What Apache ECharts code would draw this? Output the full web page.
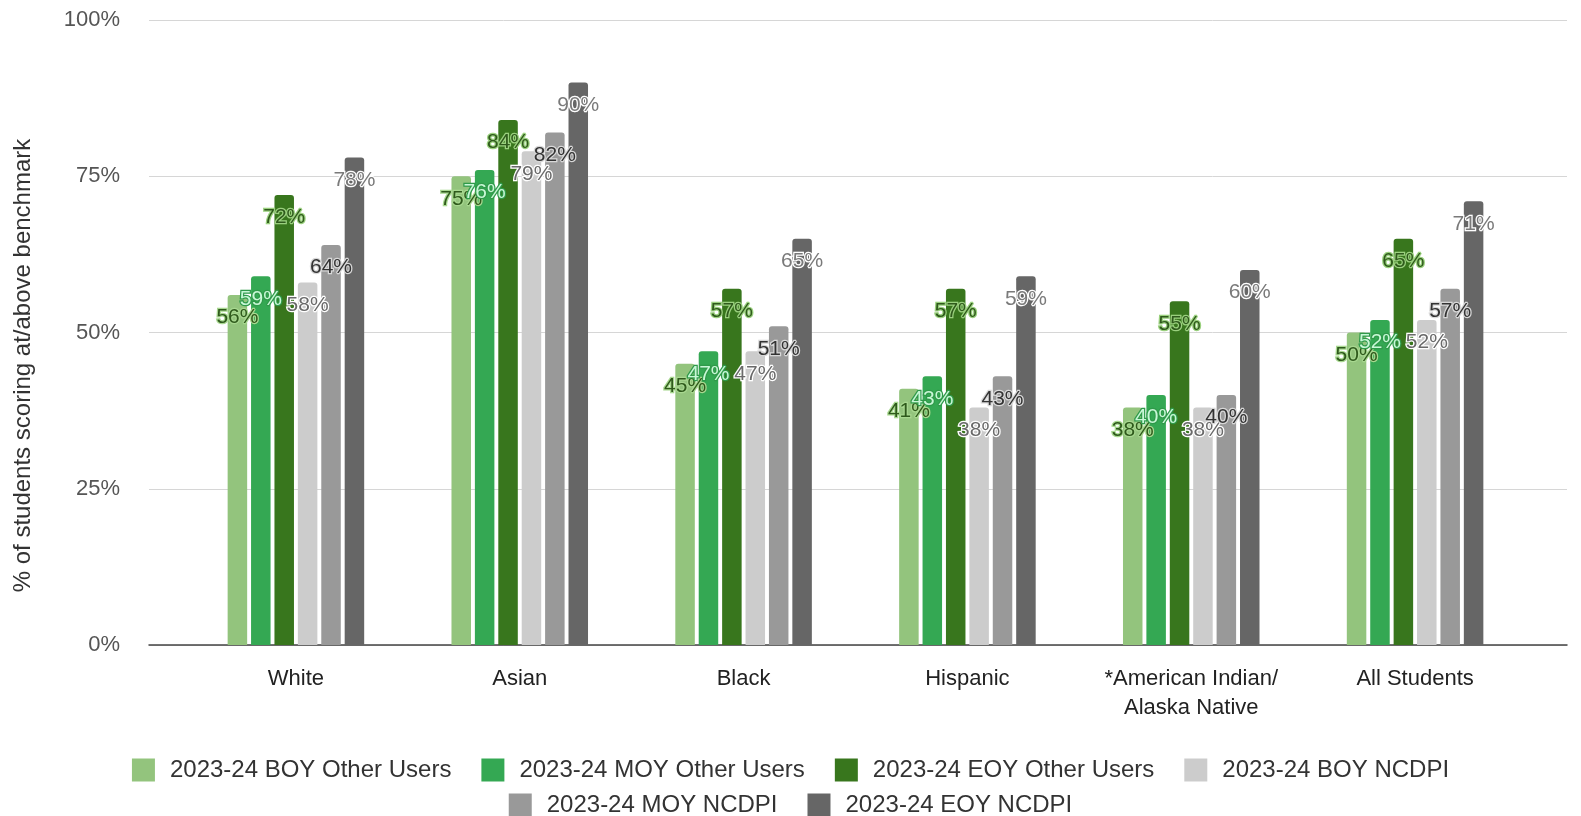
<!DOCTYPE html>
<html>
<head>
<meta charset="utf-8">
<script src="https://cdn.jsdelivr.net/npm/echarts@6/dist/echarts.min.js"></script>
<style>html,body{margin:0;padding:0;background:#fff;}#c{width:1581px;height:816px;}</style>
</head>
<body>
<div id="c"></div>
<script>
const categories = ['White', 'Asian', 'Black', 'Hispanic', '*American Indian/\nAlaska Native', 'All Students'];
const seriesNames = ['2023-24 BOY Other Users', '2023-24 MOY Other Users', '2023-24 EOY Other Users', '2023-24 BOY NCDPI', '2023-24 MOY NCDPI', '2023-24 EOY NCDPI'];
const boyOther = [56, 75, 45, 41, 38, 50];
const moyOther = [59, 76, 47, 43, 40, 52];
const eoyOther = [72, 84, 57, 57, 55, 65];
const boyNcdpi = [58, 79, 47, 38, 38, 52];
const moyNcdpi = [64, 82, 51, 43, 40, 57];
const eoyNcdpi = [78, 90, 65, 59, 60, 71];
const yTicks = [0, 25, 50, 75, 100];

const values = [boyOther, moyOther, eoyOther, boyNcdpi, moyNcdpi, eoyNcdpi];
const colors = ['#93c47d', '#34a853', '#38761d', '#cccccc', '#999999', '#666666'];
const labelText = ['#2f5a1c', '#c8f7d6', '#2f5a1c', '#6a6a6a', '#333333', '#7a7a7a'];
const labelBorder = ['#a8d890', '#2f9a4a', '#9ad07e', '#ffffff', '#d8d8d8', '#ffffff'];

const chart = echarts.init(document.getElementById('c'));
const font = 'Liberation Sans, Arial, sans-serif';

const series = values.map((v, i) => ({
  name: seriesNames[i],
  type: 'bar',
  xAxisIndex: 1,
  yAxisIndex: 1,
  data: v,
  barGap: '20%',
  barCategoryGap: '39%',
  itemStyle: { color: colors[i], borderRadius: [3, 3, 0, 0] },
  label: {
    show: true,
    position: 'insideTop',
    distance: 12,
    formatter: p => p.value + '%',
    fontFamily: font,
    fontSize: 21,
    color: labelText[i],
    textBorderColor: labelBorder[i],
    textBorderWidth: 2.5
  }
}));

const legendBase = {
  left: 'center',
  itemWidth: 23, itemHeight: 23, itemGap: 30,
  icon: 'rect',
  textStyle: { fontFamily: font, fontSize: 24, color: '#333', padding: [0, 0, 0, 10] }
};

chart.setOption({
  animation: false,
  backgroundColor: '#fff',
  grid: [
    { left: 149, right: 14, top: 20, bottom: 171 },
    { left: 184, right: 54, top: 20, bottom: 171 }
  ],
  legend: [
    Object.assign({ data: seriesNames.slice(0, 4), top: 753 }, legendBase),
    Object.assign({ data: seriesNames.slice(4), top: 788 }, legendBase)
  ],
  xAxis: [
    {
      type: 'category', gridIndex: 0, data: categories,
      axisLine: { show: true, lineStyle: { color: '#444', width: 1.5 } },
      axisTick: { show: false }, axisLabel: { show: false }
    },
    {
      type: 'category', gridIndex: 1, data: categories,
      axisLine: { show: false }, axisTick: { show: false },
      axisLabel: { interval: 0, fontFamily: font, fontSize: 22, color: '#222', margin: 19, lineHeight: 29 }
    }
  ],
  yAxis: [
    {
      type: 'value', gridIndex: 0, min: 0, max: 100, interval: 25,
      name: '% of students scoring at/above benchmark',
      nameLocation: 'middle', nameGap: 114, nameRotate: 90,
      nameTextStyle: { fontFamily: font, fontSize: 24, color: '#333', padding: [0, 66, 0, 0] },
      axisLabel: { formatter: v => yTicks.includes(v) ? v + '%' : '', fontFamily: font, fontSize: 22, color: '#555', margin: 29 },
      axisLine: { show: false }, axisTick: { show: false },
      splitLine: { lineStyle: { color: '#d6d6d6', width: 1 } }
    },
    {
      type: 'value', gridIndex: 1, min: 0, max: 100, interval: 25,
      show: false, splitLine: { show: false }
    }
  ],
  series: series
});
</script>
</body>
</html>
